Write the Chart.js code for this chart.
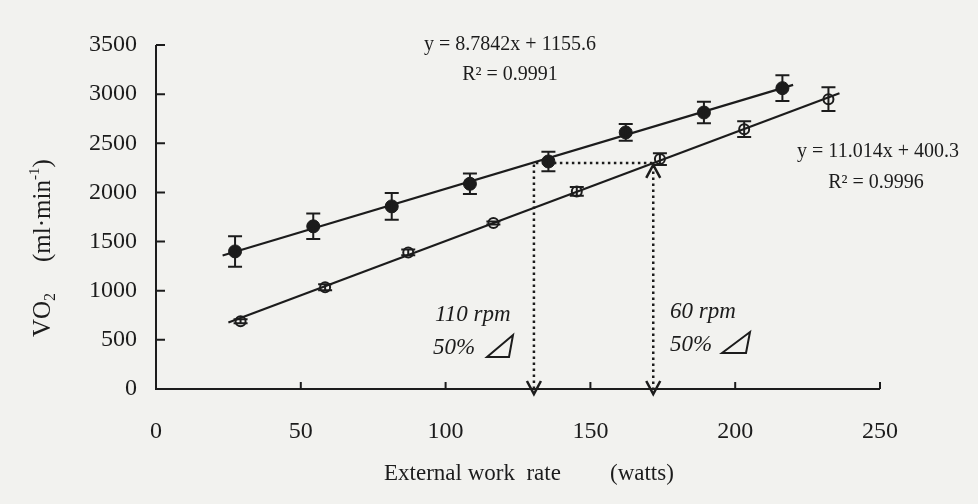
<!DOCTYPE html>
<html>
<head>
<meta charset="utf-8">
<script src="https://cdn.jsdelivr.net/npm/chart.js@4.4.1/dist/chart.umd.min.js"></script>
<style>
  html, body { margin: 0; padding: 0; background: #f2f2ef; }
  #wrap { width: 978px; height: 504px; }
</style>
</head>
<body>
<div id="wrap"><canvas id="chart"></canvas></div>
<script>
// values
const xTicks = [0, 50, 100, 150, 200, 250];
const yTicks = [0, 500, 1000, 1500, 2000, 2500, 3000, 3500];

// 110 rpm, filled circles
const rpm110X = [27.3, 54.3, 81.4, 108.4, 135.5, 162.2, 189.2, 216.3];
const rpm110Y = [1400, 1655, 1858, 2088, 2315, 2610, 2813, 3061];
const rpm110Err = [155, 130, 135, 105, 100, 85, 110, 130];

// 60 rpm, open circles
const rpm60X = [29.2, 58.4, 87.1, 116.5, 145.3, 174.0, 203.1, 232.2];
const rpm60Y = [689, 1035, 1390, 1689, 2010, 2339, 2644, 2949];
const rpm60Err = [20, 30, 30, 15, 45, 60, 80, 120];

// regression lines (end points)
const fit110X = [23, 220];
const fit110Y = [1358, 3094];
const fit60X = [25, 236];
const fit60Y = [676, 3010];

// dotted 50% guide
const guideX = [130.5, 130.5, 171.7, 171.7];
const guideY = [0, 2300, 2300, 0];

const ink = '#1c1c1c';
const serif = '"Liberation Serif", "DejaVu Serif", serif';

const pts = (xs, ys) => xs.map((x, i) => ({ x, y: ys[i] }));

const errorBars = {
  id: 'errorBars',
  afterDatasetsDraw(chart) {
    const { ctx, scales: { x, y } } = chart;
    const sets = [[rpm110X, rpm110Y, rpm110Err], [rpm60X, rpm60Y, rpm60Err]];
    ctx.save();
    ctx.strokeStyle = ink;
    ctx.lineWidth = 2;
    sets.forEach(([xs, ys, es]) => {
      xs.forEach((xv, i) => {
        const px = x.getPixelForValue(xv);
        const top = y.getPixelForValue(ys[i] + es[i]);
        const bot = y.getPixelForValue(ys[i] - es[i]);
        ctx.beginPath();
        ctx.moveTo(px, top); ctx.lineTo(px, bot);
        ctx.moveTo(px - 7, top); ctx.lineTo(px + 7, top);
        ctx.moveTo(px - 7, bot); ctx.lineTo(px + 7, bot);
        ctx.stroke();
      });
    });
    ctx.restore();
  }
};

const decor = {
  id: 'decor',
  beforeDraw(chart) {
    const { ctx } = chart;
    ctx.save();
    ctx.fillStyle = '#f2f2ef';
    ctx.fillRect(0, 0, chart.width, chart.height);
    ctx.restore();
  },
  afterDraw(chart) {
    const { ctx, chartArea: a, scales: { x, y } } = chart;
    ctx.save();
    ctx.strokeStyle = ink;
    ctx.fillStyle = ink;
    ctx.lineWidth = 2;

    // axes with inward ticks
    ctx.beginPath();
    ctx.moveTo(a.left, a.top);
    ctx.lineTo(a.left, a.bottom);
    ctx.lineTo(a.right, a.bottom);
    yTicks.forEach(v => {
      const py = y.getPixelForValue(v);
      ctx.moveTo(a.left, py); ctx.lineTo(a.left + 9, py);
    });
    xTicks.forEach(v => {
      const px = x.getPixelForValue(v);
      ctx.moveTo(px, a.bottom); ctx.lineTo(px, a.bottom - 7);
    });
    ctx.stroke();

    // arrow heads on the guide lines
    ctx.lineWidth = 2.5;
    const vDown = xv => {
      const px = x.getPixelForValue(xv), tip = a.bottom + 5;
      ctx.beginPath();
      ctx.moveTo(px - 7, tip - 13); ctx.lineTo(px, tip); ctx.lineTo(px + 7, tip - 13);
      ctx.stroke();
    };
    vDown(guideX[0]);
    vDown(guideX[3]);
    const upX = x.getPixelForValue(guideX[3]), upTip = y.getPixelForValue(2281);
    ctx.beginPath();
    ctx.moveTo(upX - 7, upTip + 13); ctx.lineTo(upX, upTip); ctx.lineTo(upX + 7, upTip + 13);
    ctx.stroke();

    // equations
    ctx.textBaseline = 'middle';
    ctx.textAlign = 'center';
    ctx.font = '20px ' + serif;
    ctx.fillText('y = 8.7842x + 1155.6', 510, 45);
    ctx.fillText('R² = 0.9991', 510, 75);
    ctx.fillText('y = 11.014x + 400.3', 878, 152);
    ctx.fillText('R² = 0.9996', 876, 183);

    // rpm labels
    ctx.textAlign = 'left';
    ctx.font = 'italic 23px ' + serif;
    ctx.fillText('110 rpm', 435, 315);
    ctx.fillText('50%', 433, 348);
    ctx.fillText('60 rpm', 670, 312);
    ctx.fillText('50%', 670, 345);
    ctx.lineWidth = 2;
    const tri = (l, r, t, b) => {
      ctx.beginPath();
      ctx.moveTo(l, b); ctx.lineTo(r, t); ctx.lineTo(r - 4, b); ctx.closePath();
      ctx.stroke();
    };
    tri(487, 513, 335, 357);
    tri(722, 750, 332, 353);

    // x axis title
    ctx.font = '23px ' + serif;
    ctx.textBaseline = 'alphabetic';
    ctx.fillText('External work  rate', 384, 480);
    ctx.fillText('(watts)', 610, 480);

    // y axis title, rotated
    ctx.translate(50, 337);
    ctx.rotate(-Math.PI / 2);
    ctx.font = '25px ' + serif;
    ctx.fillText('VO', 0, 0);
    let w = ctx.measureText('VO').width;
    ctx.font = '16px ' + serif;
    ctx.fillText('2', w, 5);
    ctx.font = '25px ' + serif;
    const unitStart = 75;
    ctx.fillText('(ml·min', unitStart, 0);
    w = unitStart + ctx.measureText('(ml·min').width;
    ctx.font = '15px ' + serif;
    ctx.fillText('-1', w, -11);
    w += ctx.measureText('-1').width;
    ctx.font = '25px ' + serif;
    ctx.fillText(')', w, 0);
    ctx.restore();
  }
};

new Chart(document.getElementById('chart'), {
  type: 'scatter',
  data: {
    datasets: [
      {
        label: '110 rpm fit', type: 'line', data: pts(fit110X, fit110Y),
        borderColor: ink, borderWidth: 2.2, pointRadius: 0, fill: false
      },
      {
        label: '60 rpm fit', type: 'line', data: pts(fit60X, fit60Y),
        borderColor: ink, borderWidth: 2.2, pointRadius: 0, fill: false
      },
      {
        label: 'guide', type: 'line', data: pts(guideX, guideY),
        borderColor: ink, borderWidth: 2.5, borderDash: [2.5, 3.5], pointRadius: 0, fill: false
      },
      {
        label: '110 rpm', data: pts(rpm110X, rpm110Y),
        pointRadius: 6.5, pointBackgroundColor: ink, pointBorderColor: ink, pointBorderWidth: 1
      },
      {
        label: '60 rpm', data: pts(rpm60X, rpm60Y),
        pointRadius: 5, pointBackgroundColor: '#f2f2ef', pointBorderColor: ink, pointBorderWidth: 2
      }
    ]
  },
  options: {
    responsive: true,
    maintainAspectRatio: false,
    animation: false,
    layout: { padding: { left: 0, right: 98, top: 45, bottom: 0 } },
    plugins: { legend: { display: false }, tooltip: { enabled: false } },
    scales: {
      x: {
        type: 'linear', min: 0, max: 250,
        afterFit: s => { s.height = 115; },
        afterBuildTicks: s => { s.ticks = xTicks.map(v => ({ value: v })); },
        grid: { display: false, drawTicks: false },
        border: { display: false },
        ticks: { color: ink, padding: 28, font: { family: serif, size: 24 }, callback: v => String(v) }
      },
      y: {
        type: 'linear', min: 0, max: 3500,
        afterFit: s => { s.width = 156; },
        afterBuildTicks: s => { s.ticks = yTicks.map(v => ({ value: v })); },
        grid: { display: false, drawTicks: false },
        border: { display: false },
        ticks: { color: ink, padding: 19, font: { family: serif, size: 24 }, callback: v => String(v) }
      }
    }
  },
  plugins: [decor, errorBars]
});
</script>
</body>
</html>
